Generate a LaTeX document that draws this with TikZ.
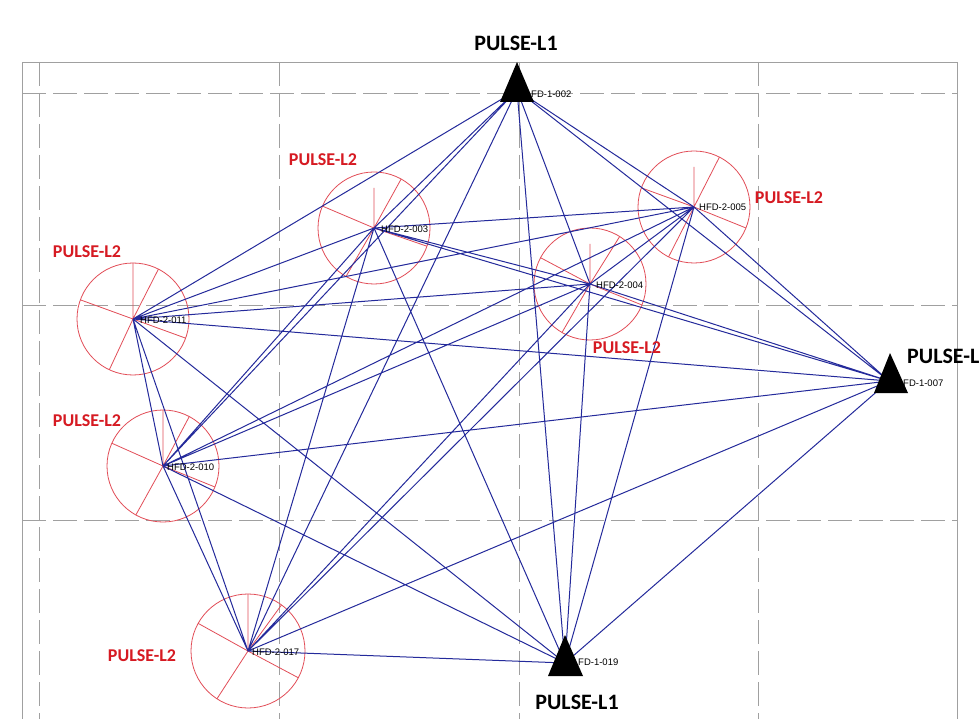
\documentclass[tikz,border=0pt]{standalone}
\usepackage{fontspec}
\setmainfont{Liberation Sans}
\newfontfamily\calib{Carlito}
\definecolor{edgeblue}{RGB}{36,42,155}
\definecolor{ringred}{RGB}{226,78,88}
\definecolor{labred}{RGB}{214,26,34}
\definecolor{gridgray}{RGB}{160,160,160}
\begin{document}
\begin{tikzpicture}[x=1pt,y=-1pt,
  frame/.style={draw=gridgray,line width=0.8pt},
  gridline/.style={draw=gridgray,line width=0.9pt,dash pattern=on 24pt off 7pt},
  ring/.style={circle,draw=ringred,line width=0.8pt,inner sep=0pt,minimum size=#1},
  radial/.style={draw=ringred,line width=0.8pt},
  edge/.style={draw=edgeblue,line width=1pt},
  tri/.style={fill=black},
  bigl/.style={font=\calib\bfseries\fontsize{22}{24}\selectfont,text=black,inner sep=0pt},
  redl/.style={font=\calib\bfseries\fontsize{18}{20}\selectfont,text=labred,inner sep=0pt},
  tiny/.style={font=\fontsize{9.5}{10}\selectfont,text=black,inner sep=0pt,anchor=west}]
\useasboundingbox (0,0) rectangle (980,719);
\fill[white] (0,0) rectangle (980,719);
% frame and grid
\draw[frame] (22,62) rectangle (957,730);
\foreach \gx in {39,279,519,758} \draw[gridline] (\gx,62) -- (\gx,719);
\foreach \gy in {93,305,520} \draw[gridline] (22,\gy) -- (957,\gy);
% rings
\node[ring=112pt] (c3) at (374,228) {};
\node[ring=112pt] (c4) at (590,284) {};
\node[ring=112pt] (c5) at (694,207) {};
\node[ring=112pt] (c11) at (133,319) {};
\node[ring=112pt] (c10) at (163,466) {};
\node[ring=114pt] (c17) at (248,651) {};
% radial lines
\draw[radial] (c3.center) -- +(90:40pt) (c3.center) -- +(61:56pt) (c3.center) -- +(157:56pt) (c3.center) -- +(240:56pt) (c3.center) -- +(-19:56pt);
\draw[radial] (c4.center) -- +(90:40pt) (c4.center) -- +(58:56pt) (c4.center) -- +(152:56pt) (c4.center) -- +(240:56pt) (c4.center) -- +(-22:56pt);
\draw[radial] (c5.center) -- +(90:40pt) (c5.center) -- +(63:56pt) (c5.center) -- +(160:56pt) (c5.center) -- +(243:56pt) (c5.center) -- +(-22:56pt);
\draw[radial] (c11.center) -- +(90:56pt) (c11.center) -- +(63:56pt) (c11.center) -- +(160:56pt) (c11.center) -- +(245:56pt) (c11.center) -- +(-20:56pt);
\draw[radial] (c10.center) -- +(90:56pt) (c10.center) -- +(62:56pt) (c10.center) -- +(156:56pt) (c10.center) -- +(241:56pt) (c10.center) -- +(-22:56pt);
\draw[radial] (c17.center) -- +(90:57pt) (c17.center) -- +(54:57pt) (c17.center) -- +(151:57pt) (c17.center) -- +(237:57pt) (c17.center) -- +(-28:57pt);
% L1 stations
\coordinate (t1) at (517,90);
\coordinate (t2) at (889,381);
\coordinate (t3) at (565,663);
% connectors: complete graph
\draw[edge]
 (t1)--(t2) (t1)--(t3) (t1)--(c3.center) (t1)--(c4.center) (t1)--(c5.center) (t1)--(c11.center) (t1)--(c10.center) (t1)--(c17.center)
 (t2)--(t3) (t2)--(c3.center) (t2)--(c4.center) (t2)--(c5.center) (t2)--(c11.center) (t2)--(c10.center) (t2)--(c17.center)
 (t3)--(c3.center) (t3)--(c4.center) (t3)--(c5.center) (t3)--(c11.center) (t3)--(c10.center) (t3)--(c17.center)
 (c3.center)--(c4.center) (c3.center)--(c5.center) (c3.center)--(c11.center) (c3.center)--(c10.center) (c3.center)--(c17.center)
 (c4.center)--(c5.center) (c4.center)--(c11.center) (c4.center)--(c10.center) (c4.center)--(c17.center)
 (c5.center)--(c11.center) (c5.center)--(c10.center) (c5.center)--(c17.center)
 (c11.center)--(c10.center) (c11.center)--(c17.center)
 (c10.center)--(c17.center);
% triangles
\fill[tri,shift={(t1)}] (0,-28) -- (17,12) -- (-17,12) -- cycle;
\fill[tri,shift={(t2)}] (1,-28) -- (19,12) -- (-15,12) -- cycle;
\fill[tri,shift={(t3)}] (0,-28) -- (18,13) -- (-17,13) -- cycle;
% labels
\node[bigl] (lt1) at (516,43) {PULSE-L1};
\node[bigl,anchor=west] (lt2) at (907,356) {PULSE-L};
\node[bigl] (lt3) at (577,702) {PULSE-L1};
\node[tiny] (st1) at (531,94) {FD-1-002};
\node[tiny] (st2) at (903,383) {FD-1-007};
\node[tiny] (st3) at (578,662) {FD-1-019};
\node[redl] (lc3) at (323,160) {PULSE-L2};
\node[redl] (lc4) at (627,348) {PULSE-L2};
\node[redl] (lc5) at (789,198) {PULSE-L2};
\node[redl] (lc11) at (87,252) {PULSE-L2};
\node[redl] (lc10) at (87,421) {PULSE-L2};
\node[redl] (lc17) at (142,656) {PULSE-L2};
\node[tiny] (sc3) at (381,229) {HFD-2-003};
\node[tiny] (sc4) at (596,285) {HFD-2-004};
\node[tiny] (sc5) at (699,207) {HFD-2-005};
\node[tiny] (sc11) at (140,320) {HFD-2-011};
\node[tiny] (sc10) at (167,467) {HFD-2-010};
\node[tiny] (sc17) at (252,652) {HFD-2-017};
\end{tikzpicture}
\end{document}
